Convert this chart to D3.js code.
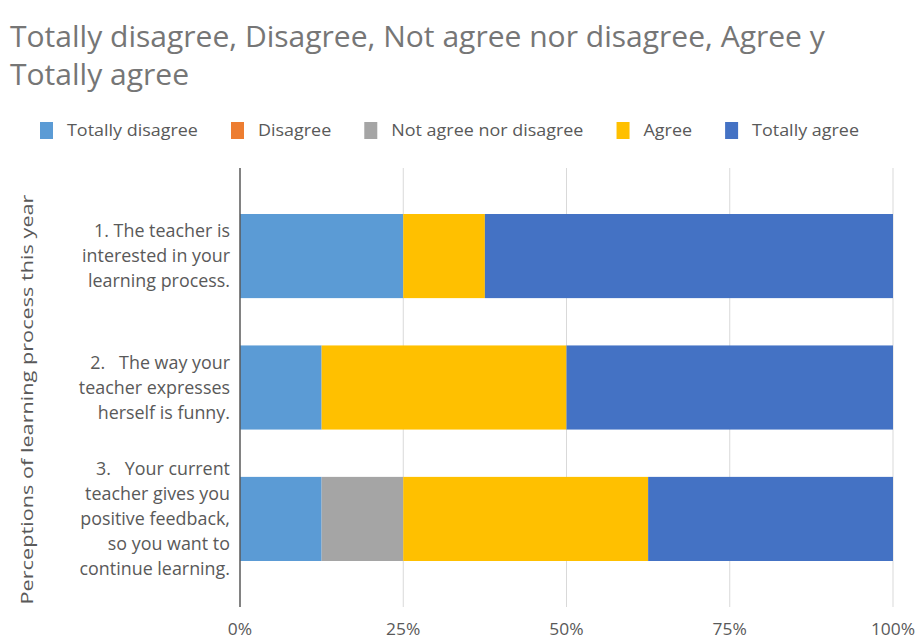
<!DOCTYPE html>
<html><head><meta charset="utf-8">
<script src="https://cdn.jsdelivr.net/npm/d3@7"></script>
<style>body{margin:0;background:#fff} svg{display:block} text{white-space:pre}</style>
</head><body>
<svg id="chart" width="920" height="641"></svg>
<script>
// ---------- data ----------
const titleLines = ["Totally disagree, Disagree, Not agree nor disagree, Agree y", "Totally agree"];
const seriesNames = ["Totally disagree", "Disagree", "Not agree nor disagree", "Agree", "Totally agree"];
const seriesColors = ["#5B9BD5", "#ED7D31", "#A5A5A5", "#FFC000", "#4472C4"];
const categories = ["Q1", "Q2", "Q3"];
const categoryLines = [
  ["1. The teacher is", "interested in your", "learning process."],
  ["2.   The way your", "teacher expresses", "herself is funny."],
  ["3.   Your current", "teacher gives you", "positive feedback,", "so you want to", "continue learning."]
];
const totallyDisagree     = [25, 12.5, 12.5];
const disagree            = [0, 0, 0];
const notAgreeNorDisagree = [0, 0, 12.5];
const agree               = [12.5, 37.5, 37.5];
const totallyAgree        = [62.5, 50, 37.5];
const tickValues = [0, 25, 50, 75, 100];
const tickLabels = ["0%", "25%", "50%", "75%", "100%"];
const yAxisTitle = "Perceptions of learning process this year";

// ---------- build table ----------
const seriesArrays = [totallyDisagree, disagree, notAgreeNorDisagree, agree, totallyAgree];
const rows = categories.map((c, i) => {
  const r = {cat: c};
  seriesNames.forEach((s, j) => r[s] = seriesArrays[j][i]);
  return r;
});
const stacked = d3.stack().keys(seriesNames)(rows);

const svg = d3.select("#chart");
const FONT = "'Open Sans', sans-serif";

function measure(str, size) {
  const t = svg.append("text").attr("font-family", FONT).attr("font-size", size).text(str);
  const w = t.node().getComputedTextLength();
  t.remove();
  return w;
}
function addText(parent, str, x, y, size, k, anchor, fill) {
  return parent.append("text")
    .attr("transform", `translate(${x},${y}) scale(${k},1)`)
    .attr("font-family", FONT).attr("font-size", size)
    .attr("text-anchor", anchor).attr("fill", fill)
    .text(str);
}

// ---------- layout ----------
const x = d3.scaleLinear().domain([0, 100]).range([240, 893]);
const y = d3.scaleBand().domain(categories).range([168, 607]).paddingInner(0.36).paddingOuter(0.35);

// ---------- title ----------
const titleSize = 30;
const kTitle = 815 / measure(titleLines[0], titleSize);
titleLines.forEach((l, i) => addText(svg, l, 10, 47 + i * 38, titleSize, kTitle, "start", "#767676"));

// ---------- legend ----------
const legSize = 16;
const kLeg = 131 / measure(seriesNames[0], legSize);
let lx = 40;
seriesNames.forEach((s, i) => {
  svg.append("rect").attr("x", lx).attr("y", 122).attr("width", 13).attr("height", 17).attr("fill", seriesColors[i]);
  addText(svg, s, lx + 27, 136, legSize, kLeg, "start", "#595959");
  lx += 27 + measure(s, legSize) * kLeg + 33;
});

// ---------- gridlines ----------
const g = svg.append("g");
g.selectAll("line.grid").data(tickValues.slice(1)).join("line")
  .attr("class", "grid")
  .attr("x1", d => x(d)).attr("x2", d => x(d))
  .attr("y1", 168).attr("y2", 607)
  .attr("stroke", "#d9d9d9").attr("stroke-width", 1);

// ---------- bars ----------
stacked.forEach((layer, j) => {
  g.append("g").attr("fill", seriesColors[j])
    .selectAll("rect").data(layer).join("rect")
    .attr("x", d => x(d[0]))
    .attr("width", d => x(d[1]) - x(d[0]))
    .attr("y", d => y(d.data.cat))
    .attr("height", y.bandwidth());
});

// ---------- axis line ----------
g.append("line").attr("x1", x(0)).attr("x2", x(0)).attr("y1", 168).attr("y2", 607)
  .attr("stroke", "#595959").attr("stroke-width", 1.5);

// ---------- category labels ----------
const labSize = 17.5;
const kLab = 148 / measure("interested in your", labSize);
categories.forEach((c, i) => {
  const lines = categoryLines[i];
  const cy = y(c) + y.bandwidth() / 2;
  const lh = 25;
  lines.forEach((l, k) => {
    const yy = cy + (k - (lines.length - 1) / 2) * lh + 6;
    addText(svg, l, 230, yy, labSize, kLab, "end", "#595959");
  });
});

// ---------- x tick labels ----------
tickValues.forEach((v, i) => {
  addText(svg, tickLabels[i], x(v), 635, 17, kLab, "middle", "#595959");
});

// ---------- y axis title ----------
svg.append("text")
  .attr("transform", `translate(33,${(168 + 607) / 2 + 12}) rotate(-90)`)
  .attr("font-family", FONT).attr("font-size", 17)
  .attr("text-anchor", "middle").attr("fill", "#595959")
  .attr("textLength", 410).attr("lengthAdjust", "spacingAndGlyphs")
  .text(yAxisTitle);
</script>
</body></html>
